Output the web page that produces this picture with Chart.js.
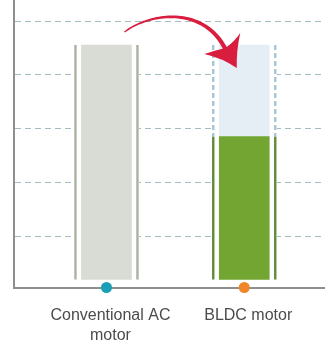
<!DOCTYPE html>
<html>
<head>
<meta charset="utf-8">
<script src="https://cdn.jsdelivr.net/npm/chart.js@4/dist/chart.umd.min.js"></script>
<style>
  html, body { margin: 0; padding: 0; background: #ffffff; }
  #wrap { width: 325px; height: 342px; position: relative; }
</style>
</head>
<body>
<div id="wrap"><canvas id="c"></canvas></div>
<script>
// Motor types shown along the x axis (one entry per line of the label)
const categories = [['Conventional AC', 'motor'], ['BLDC motor']];
// Relative energy consumption per motor type
const consumption = [100, 61];
// Background grid steps
const gridSteps = [1, 2, 3, 4, 5];
// Colours per motor type
const fillColors = ['#d8dcd4', '#72a532'];
const edgeColors = ['#a9b3a0', '#5e8c39'];
const markerColors = ['#1a9fb7', '#f0862a'];

const BAR_AXIS_MIN = -3.4;
const BAR_AXIS_MAX = 119.2;

// The part of the conventional consumption that the BLDC motor saves
const savedSpan = [null, [consumption[1], consumption[0]]];

const barData = consumption.map((v, i) => ({ x: i, y: v }));
const savedData = savedSpan.map((v, i) => ({ x: i, y: v }));
const markerData = categories.map((_, i) => ({ x: i, y: BAR_AXIS_MIN }));

// White backing behind each bar group, so grid lines stop at the edge rules
const barBacking = {
  id: 'barBacking',
  beforeDatasetsDraw(chart) {
    const ctx = chart.ctx;
    const meta = chart.getDatasetMeta(0);
    ctx.save();
    ctx.fillStyle = '#ffffff';
    meta.data.forEach((el, i) => {
      const p = el.getProps(['x', 'y', 'base', 'width'], true);
      const topVal = Math.max(consumption[i], consumption[0]);
      const top = chart.scales.yb.getPixelForValue(topVal);
      const half = p.width / 2 + 7.5;
      ctx.fillRect(p.x - half, top, half * 2, p.base - top);
    });
    ctx.restore();
  }
};

// Thin vertical rules on both sides of each bar
const barEdges = {
  id: 'barEdges',
  afterDatasetsDraw(chart) {
    const ctx = chart.ctx;
    chart.data.datasets.forEach((ds, di) => {
      if (!ds.edgeColor) return;
      const meta = chart.getDatasetMeta(di);
      meta.data.forEach((el, i) => {
        if (ds.data[i].y === null) return;
        const p = el.getProps(['x', 'y', 'base', 'width'], true);
        const top = Math.min(p.y, p.base);
        const bottom = Math.max(p.y, p.base);
        const off = p.width / 2 + 6;
        ctx.save();
        ctx.strokeStyle = Array.isArray(ds.edgeColor) ? ds.edgeColor[i] : ds.edgeColor;
        ctx.lineWidth = 2.4;
        ctx.setLineDash(ds.edgeDash || []);
        ctx.beginPath();
        [p.x - off, p.x + off].forEach(x => {
          ctx.moveTo(x, top);
          ctx.lineTo(x, bottom);
        });
        ctx.stroke();
        ctx.restore();
      });
    });
  }
};

// Curved arrow from the conventional bar to the BLDC bar
const swapArrow = {
  id: 'swapArrow',
  afterDatasetsDraw(chart) {
    const ctx = chart.ctx;
    const meta = chart.getDatasetMeta(0);
    const lx = meta.data[0].getProps(['x'], true).x;
    const rx = meta.data[1].getProps(['x'], true).x;
    const top = chart.scales.yb.getPixelForValue(consumption[0]);

    const p0 = [lx + 18, top - 13];
    const p1 = [lx + 46, top - 34];
    const p2 = [rx - 38, top - 38];
    const p3 = [rx - 18, top + 6];
    const at = (t, k) => {
      const u = 1 - t;
      return u * u * u * p0[k] + 3 * u * u * t * p1[k] + 3 * u * t * t * p2[k] + t * t * t * p3[k];
    };
    const der = (t, k) => {
      const u = 1 - t;
      return 3 * u * u * (p1[k] - p0[k]) + 6 * u * t * (p2[k] - p1[k]) + 3 * t * t * (p3[k] - p2[k]);
    };
    // tapered shaft: thin at the start, thicker near the head
    const left = [], right = [];
    const n = 48;
    for (let i = 0; i <= n; i++) {
      const t = i / n;
      const x = at(t, 0), y = at(t, 1);
      const dx = der(t, 0), dy = der(t, 1);
      const len = Math.hypot(dx, dy) || 1;
      const nx = -dy / len, ny = dx / len;
      const w = (1.4 + 3.0 * t) / 2;
      left.push([x + nx * w, y + ny * w]);
      right.push([x - nx * w, y - ny * w]);
    }
    ctx.save();
    ctx.fillStyle = '#d81d3e';
    ctx.beginPath();
    left.forEach((p, i) => (i ? ctx.lineTo(p[0], p[1]) : ctx.moveTo(p[0], p[1])));
    right.reverse().forEach(p => ctx.lineTo(p[0], p[1]));
    ctx.closePath();
    ctx.fill();

    // arrow head
    ctx.beginPath();
    ctx.moveTo(rx - 7.5, top + 23);
    ctx.quadraticCurveTo(rx - 22, top + 13, rx - 40, top + 9);
    ctx.quadraticCurveTo(rx - 28, top + 5, rx - 19, top + 3);
    ctx.quadraticCurveTo(rx - 10, top - 3, rx - 4, top - 12);
    ctx.quadraticCurveTo(rx - 8, top + 6, rx - 7.5, top + 23);
    ctx.closePath();
    ctx.fill();
    ctx.restore();
  }
};

const labelFont = { family: '"Liberation Sans", Arial, sans-serif', size: 16, lineHeight: 1.25 };

new Chart(document.getElementById('c'), {
  type: 'bar',
  data: {
    datasets: [
      {
        data: barData,
        yAxisID: 'yb',
        backgroundColor: fillColors,
        edgeColor: edgeColors,
        barThickness: 50,
        grouped: false,
        borderWidth: 0,
        order: 2
      },
      {
        data: savedData,
        yAxisID: 'yb',
        backgroundColor: '#e5eef5',
        edgeColor: '#a7c6d8',
        edgeDash: [5, 3],
        barThickness: 50,
        grouped: false,
        borderWidth: 0,
        order: 3
      },
      {
        type: 'scatter',
        data: markerData,
        yAxisID: 'yb',
        pointBackgroundColor: markerColors,
        pointBorderWidth: 0,
        pointRadius: 5.5,
        clip: false,
        order: 0
      }
    ]
  },
  options: {
    responsive: true,
    maintainAspectRatio: false,
    animation: false,
    devicePixelRatio: 1,
    layout: { autoPadding: false, padding: { left: 14, right: 0, top: 0, bottom: 0 } },
    plugins: { legend: { display: false }, tooltip: { enabled: false } },
    scales: {
      x: {
        type: 'linear',
        offset: false,
        min: -0.671,
        max: 1.586,
        afterBuildTicks: s => { s.ticks = categories.map((_, i) => ({ value: i })); },
        afterFit: s => { s.height = 54.5; },
        ticks: {
          callback: (v, i) => categories[i],
          padding: 18,
          labelOffset: 4,
          autoSkip: false,
          maxRotation: 0,
          color: '#4b4b4b',
          font: labelFont
        },
        grid: { display: true, offset: false, drawOnChartArea: false, drawTicks: false },
        border: { display: true, color: '#8e8e8e', width: 2 }
      },
      y: {
        position: 'left',
        min: 0.06,
        max: 5.39,
        afterBuildTicks: s => { s.ticks = gridSteps.map(v => ({ value: v })); },
        afterFit: s => { s.width = 0; },
        ticks: { display: false },
        grid: { color: '#a5bcc0', lineWidth: 1, drawTicks: false },
        border: { display: true, color: '#8e8e8e', width: 2, dash: [6, 4] }
      },
      yb: {
        display: false,
        min: BAR_AXIS_MIN,
        max: BAR_AXIS_MAX
      }
    }
  },
  plugins: [barBacking, barEdges, swapArrow]
});
</script>
</body>
</html>
